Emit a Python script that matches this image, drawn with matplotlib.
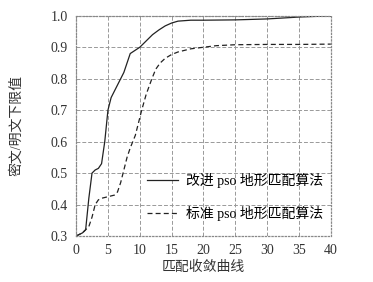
import matplotlib.pyplot as plt

plt.rcParams['font.family'] = ['Liberation Serif', 'Noto Sans CJK SC']

# improved pso curve
x_improved = [0, 1, 1.5, 2, 2.5, 3, 3.5, 4, 4.5, 5, 5.5, 6.5, 7.5, 8.5, 10, 11, 12, 13, 14, 15, 16, 18, 20, 25, 30, 35, 40]
y_improved = [0.30, 0.31, 0.32, 0.42, 0.50, 0.51, 0.515, 0.53, 0.60, 0.70, 0.74, 0.78, 0.82, 0.88, 0.90, 0.92, 0.94, 0.955, 0.968, 0.977, 0.983, 0.986, 0.986, 0.987, 0.99, 0.996, 1.0]

# standard pso curve
x_standard = [0, 1, 2, 2.5, 3, 3.5, 4, 5, 6, 6.5, 7, 7.5, 8, 8.5, 9.3, 10.3, 11, 11.9, 12.5, 13.2, 14, 15, 16, 18, 20, 22, 25, 30, 35, 40]
y_standard = [0.30, 0.31, 0.33, 0.36, 0.40, 0.415, 0.42, 0.425, 0.43, 0.44, 0.47, 0.51, 0.55, 0.58, 0.62, 0.70, 0.75, 0.80, 0.83, 0.85, 0.865, 0.877, 0.885, 0.895, 0.900, 0.905, 0.908, 0.909, 0.909, 0.910]

fig = plt.figure(figsize=(3.73, 2.82), dpi=100)
ax = fig.add_axes([0.204, 0.163, 0.683, 0.781])

ax.plot(x_improved, y_improved, color='#222222', lw=0.9, label='改进 pso 地形匹配算法')
ax.plot(x_standard, y_standard, color='#222222', lw=0.9, ls=(0, (4, 2.5)), label='标准 pso 地形匹配算法')

ax.set_xlim(0, 40)
ax.set_ylim(0.3, 1.0)
ax.set_xticks(range(0, 41, 5))
ax.set_yticks([0.3, 0.4, 0.5, 0.6, 0.7, 0.8, 0.9, 1.0])
ax.set_yticklabels(['0.3', '0.4', '0.5', '0.6', '0.7', '0.8', '0.9', '1.0'])
ax.tick_params(length=0, labelsize=10, colors='#333333', pad=6)
ax.grid(True, color='#999999', ls=(0, (4, 2)), lw=0.7)
for s in ax.spines.values():
    s.set_color('#888888')
    s.set_linestyle(':')
    s.set_linewidth(0.9)

ax.set_xlabel('匹配收敛曲线', fontsize=10, color='#333333', labelpad=2)
ax.set_ylabel('密文/明文下限值', fontsize=10, color='#333333', labelpad=20)

ax.legend(loc='lower right', bbox_to_anchor=(1.02, 0.01), frameon=False, fontsize=10,
          handlelength=2.2, labelspacing=1.3, handletextpad=0.6)

fig.savefig('out.png', dpi=100, facecolor='white')
